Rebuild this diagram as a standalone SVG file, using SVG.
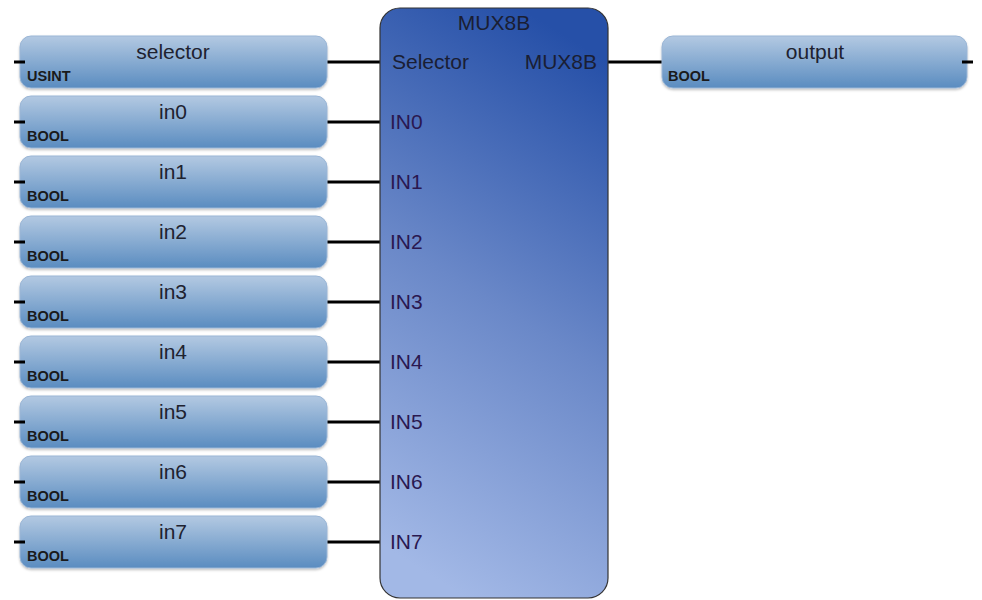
<svg xmlns="http://www.w3.org/2000/svg" width="982" height="600" viewBox="0 0 982 600">
<defs>
<linearGradient id="var" x1="0" y1="0" x2="0" y2="1">
<stop offset="0" stop-color="#b3c9e2"/>
<stop offset="1" stop-color="#5a8cc0"/>
</linearGradient>
<linearGradient id="fb" x1="0.62" y1="0" x2="0.38" y2="1">
<stop offset="0" stop-color="#2650a8"/>
<stop offset="0.5" stop-color="#6a88c8"/>
<stop offset="1" stop-color="#a2b8e6"/>
</linearGradient>
<filter id="sh" x="-5%" y="-5%" width="110%" height="120%">
<feDropShadow dx="0" dy="1.5" stdDeviation="1" flood-color="#000" flood-opacity="0.25"/>
</filter>
</defs>
<style>
.var{fill:url(#var);stroke:#9bb6d6;stroke-width:1;filter:url(#sh)}
.name{font-family:"Liberation Sans",Arial,sans-serif;font-size:21px;fill:#1e2230;text-anchor:middle}
.type{font-family:"Liberation Sans",Arial,sans-serif;font-size:14.5px;fill:#1a1a1a;font-weight:bold}
.port{font-family:"Liberation Sans",Arial,sans-serif;font-size:21px;fill:#1a1e33}
.pin{font-family:"Liberation Sans",Arial,sans-serif;font-size:21px;fill:#2a1850}
.w{stroke:#000;stroke-width:3;fill:none}
</style>
<rect width="982" height="600" fill="#fff"/>
<g id="connectors">
<path class="w" d="M323 62H387"/>
<path class="w" d="M323 122H387"/>
<path class="w" d="M323 182H387"/>
<path class="w" d="M323 242H387"/>
<path class="w" d="M323 302H387"/>
<path class="w" d="M323 362H387"/>
<path class="w" d="M323 422H387"/>
<path class="w" d="M323 482H387"/>
<path class="w" d="M323 542H387"/>
<path class="w" d="M600 62H666"/>
</g>
<g id="mux8b">
<rect x="380" y="8" width="228" height="590" rx="20" fill="url(#fb)" stroke="#333" stroke-width="1.2"/>
<text class="port" x="494" y="30" text-anchor="middle">MUX8B</text>
<text class="port" x="392" y="69">Selector</text>
<text class="port" x="597" y="69" text-anchor="end">MUX8B</text>
<text class="pin" x="390" y="129">IN0</text>
<text class="pin" x="390" y="189">IN1</text>
<text class="pin" x="390" y="249">IN2</text>
<text class="pin" x="390" y="309">IN3</text>
<text class="pin" x="390" y="369">IN4</text>
<text class="pin" x="390" y="429">IN5</text>
<text class="pin" x="390" y="489">IN6</text>
<text class="pin" x="390" y="549">IN7</text>
</g>
<g id="selector">
<rect class="var" x="20" y="36" width="307" height="52" rx="11"/>
<path class="w" d="M14 62H25"/>
<text class="name" x="173" y="59">selector</text>
<text class="type" x="27" y="81">USINT</text>
</g>
<g id="in0">
<rect class="var" x="20" y="96" width="307" height="52" rx="11"/>
<path class="w" d="M14 122H25"/>
<text class="name" x="173" y="119">in0</text>
<text class="type" x="27" y="141">BOOL</text>
</g>
<g id="in1">
<rect class="var" x="20" y="156" width="307" height="52" rx="11"/>
<path class="w" d="M14 182H25"/>
<text class="name" x="173" y="179">in1</text>
<text class="type" x="27" y="201">BOOL</text>
</g>
<g id="in2">
<rect class="var" x="20" y="216" width="307" height="52" rx="11"/>
<path class="w" d="M14 242H25"/>
<text class="name" x="173" y="239">in2</text>
<text class="type" x="27" y="261">BOOL</text>
</g>
<g id="in3">
<rect class="var" x="20" y="276" width="307" height="52" rx="11"/>
<path class="w" d="M14 302H25"/>
<text class="name" x="173" y="299">in3</text>
<text class="type" x="27" y="321">BOOL</text>
</g>
<g id="in4">
<rect class="var" x="20" y="336" width="307" height="52" rx="11"/>
<path class="w" d="M14 362H25"/>
<text class="name" x="173" y="359">in4</text>
<text class="type" x="27" y="381">BOOL</text>
</g>
<g id="in5">
<rect class="var" x="20" y="396" width="307" height="52" rx="11"/>
<path class="w" d="M14 422H25"/>
<text class="name" x="173" y="419">in5</text>
<text class="type" x="27" y="441">BOOL</text>
</g>
<g id="in6">
<rect class="var" x="20" y="456" width="307" height="52" rx="11"/>
<path class="w" d="M14 482H25"/>
<text class="name" x="173" y="479">in6</text>
<text class="type" x="27" y="501">BOOL</text>
</g>
<g id="in7">
<rect class="var" x="20" y="516" width="307" height="52" rx="11"/>
<path class="w" d="M14 542H25"/>
<text class="name" x="173" y="539">in7</text>
<text class="type" x="27" y="561">BOOL</text>
</g>
<g id="output">
<rect class="var" x="662" y="36" width="305" height="52" rx="11"/>
<path class="w" d="M962 62H973"/>
<text class="name" x="815" y="59">output</text>
<text class="type" x="668" y="81">BOOL</text>
</g>
</svg>
